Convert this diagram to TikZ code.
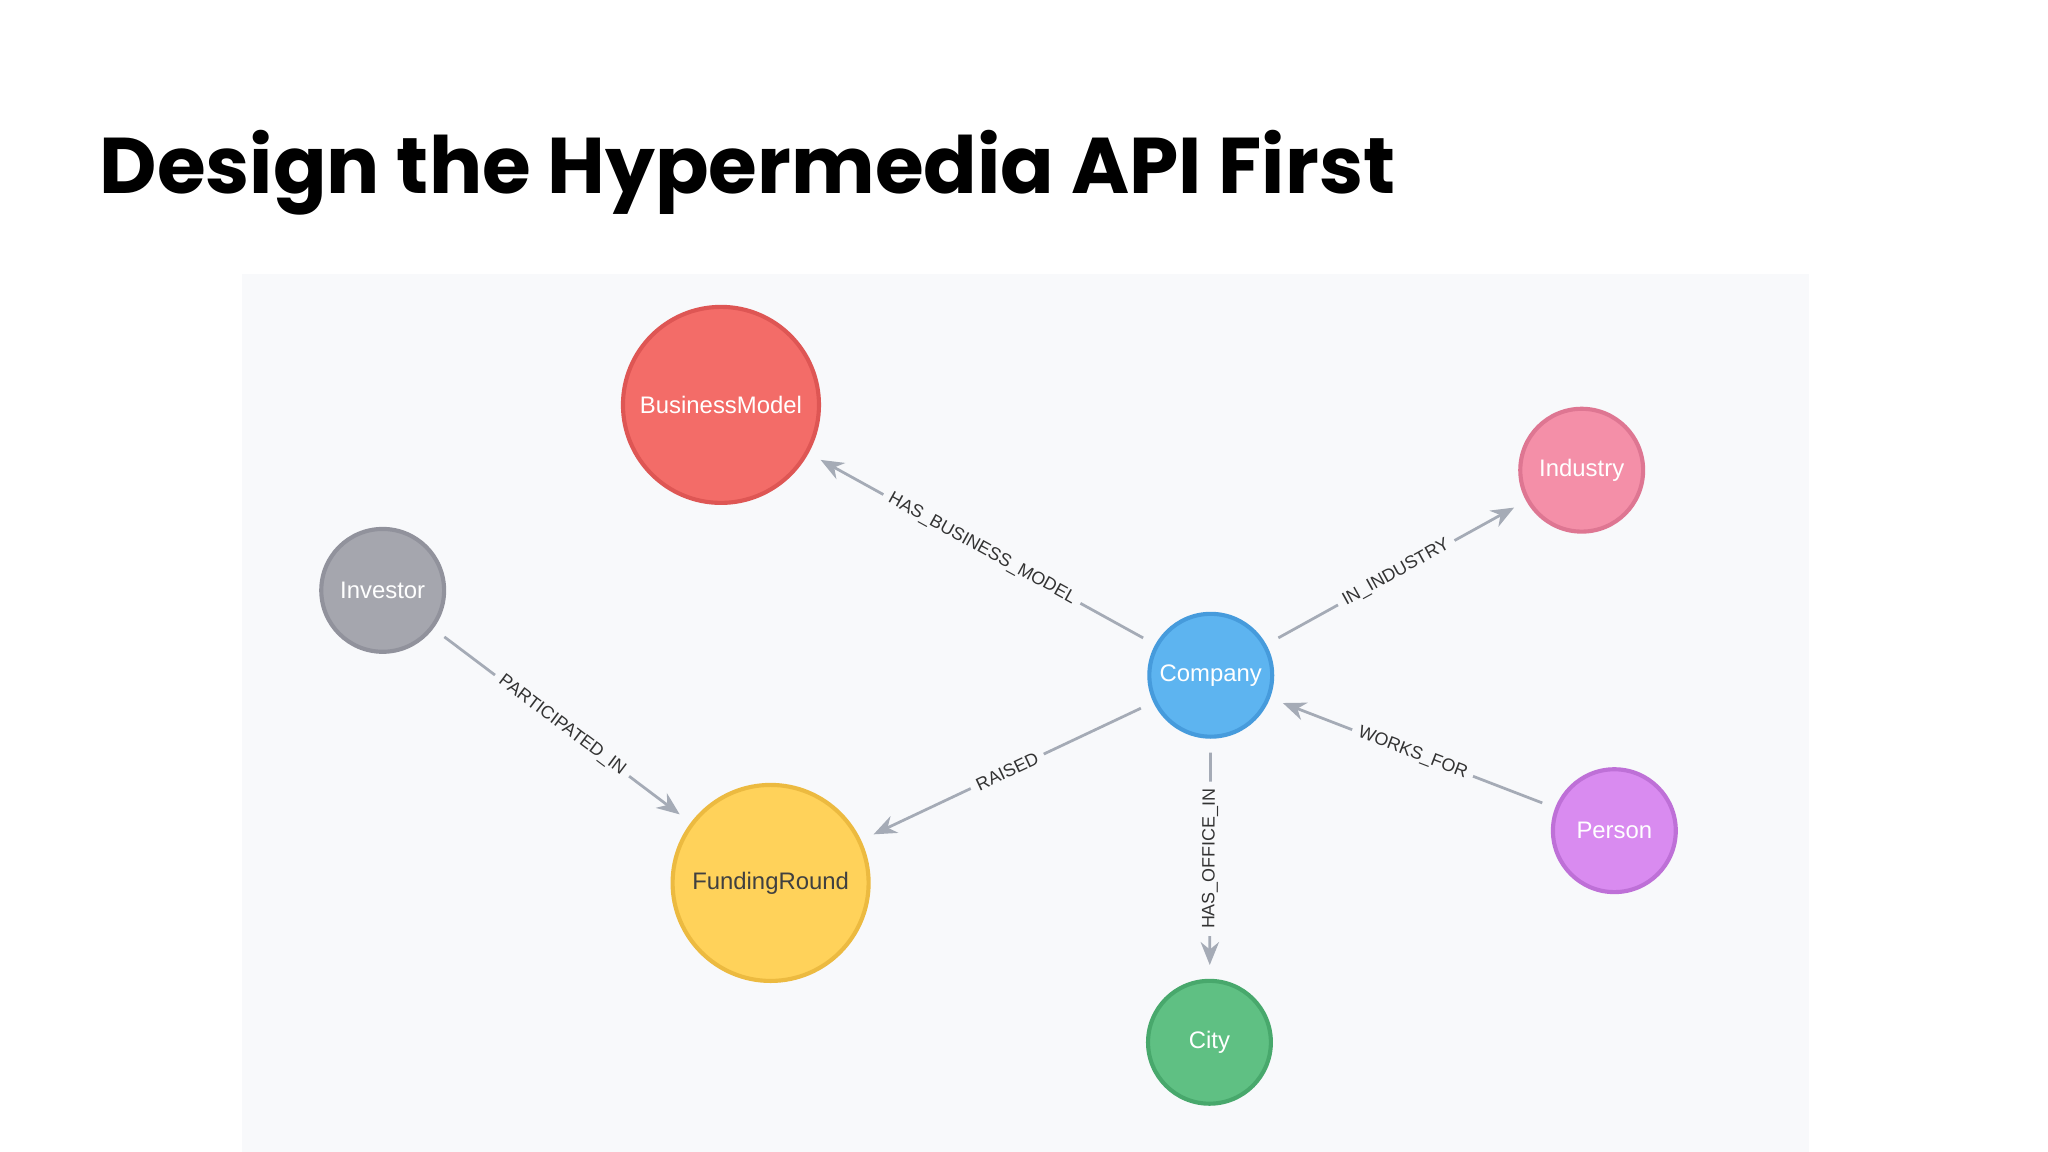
\documentclass[tikz,border=0pt]{standalone}
\usepackage{fontspec}
\setmainfont{Liberation Sans}
\newfontfamily\titlefont{Poppins}
\usetikzlibrary{arrows.meta}
\definecolor{panel}{HTML}{F8F9FB}
\definecolor{edge}{HTML}{A5ABB6}
\begin{document}
\begin{tikzpicture}[x=0.01cm,y=-0.01cm,
  nd/.style={circle,draw,line width=0.9pt,inner sep=0pt,text=white,font=\fontsize{5.2}{6}\selectfont},
  big/.style={nd,minimum size=1.5cm},
  small/.style={nd,minimum size=0.94cm},
  ed/.style={draw=edge,line width=0.6pt,-{Stealth[length=5pt,width=4pt]},shorten >=3pt,shorten <=3pt},
  lb/.style={fill=panel,inner sep=1.5pt,sloped,font=\fontsize{3.9}{4}\selectfont,text=black!80}]
\useasboundingbox (0,0) rectangle (1568,882);
\fill[white] (0,0) rectangle (1568,882);
\fill[panel] (185,210) rectangle (1385,882);
\node[anchor=west,font=\titlefont\bfseries\fontsize{17.2}{19}\selectfont] (title) at (64,132) {Design the Hypermedia API First};
\node[big,fill={rgb,255:red,243;green,108;blue,104},draw={rgb,255:red,222;green,86;blue,84}] (bm) at (552,310) {BusinessModel};
\node[small,fill={rgb,255:red,244;green,143;blue,168},draw={rgb,255:red,222;green,118;blue,146}] (ind) at (1211,360) {Industry};
\node[small,fill={rgb,255:red,165;green,166;blue,174},draw={rgb,255:red,145;green,146;blue,156}] (inv) at (293,452) {Investor};
\node[small,fill={rgb,255:red,93;green,180;blue,240},draw={rgb,255:red,70;green,155;blue,220}] (co) at (927,517) {Company};
\node[small,fill={rgb,255:red,217;green,139;blue,240},draw={rgb,255:red,190;green,112;blue,215}] (pe) at (1236,636) {Person};
\node[big,fill={rgb,255:red,255;green,210;blue,90},draw={rgb,255:red,236;green,186;blue,64},text=black!75] (fr) at (590,676) {FundingRound};
\node[small,fill={rgb,255:red,95;green,192;blue,131},draw={rgb,255:red,72;green,168;blue,108}] (ci) at (926,798) {City};
\draw[ed] (co) -- node[lb] {HAS\_BUSINESS\_MODEL} (bm);
\draw[ed] (co) -- node[lb] {IN\_INDUSTRY} (ind);
\draw[ed] (inv) -- node[lb] {PARTICIPATED\_IN} (fr);
\draw[ed] (co) -- node[lb] {RAISED} (fr);
\draw[ed] (pe) -- node[lb] {WORKS\_FOR} (co);
\draw[ed] (co) -- node[lb] {HAS\_OFFICE\_IN} (ci);
\end{tikzpicture}
\end{document}
